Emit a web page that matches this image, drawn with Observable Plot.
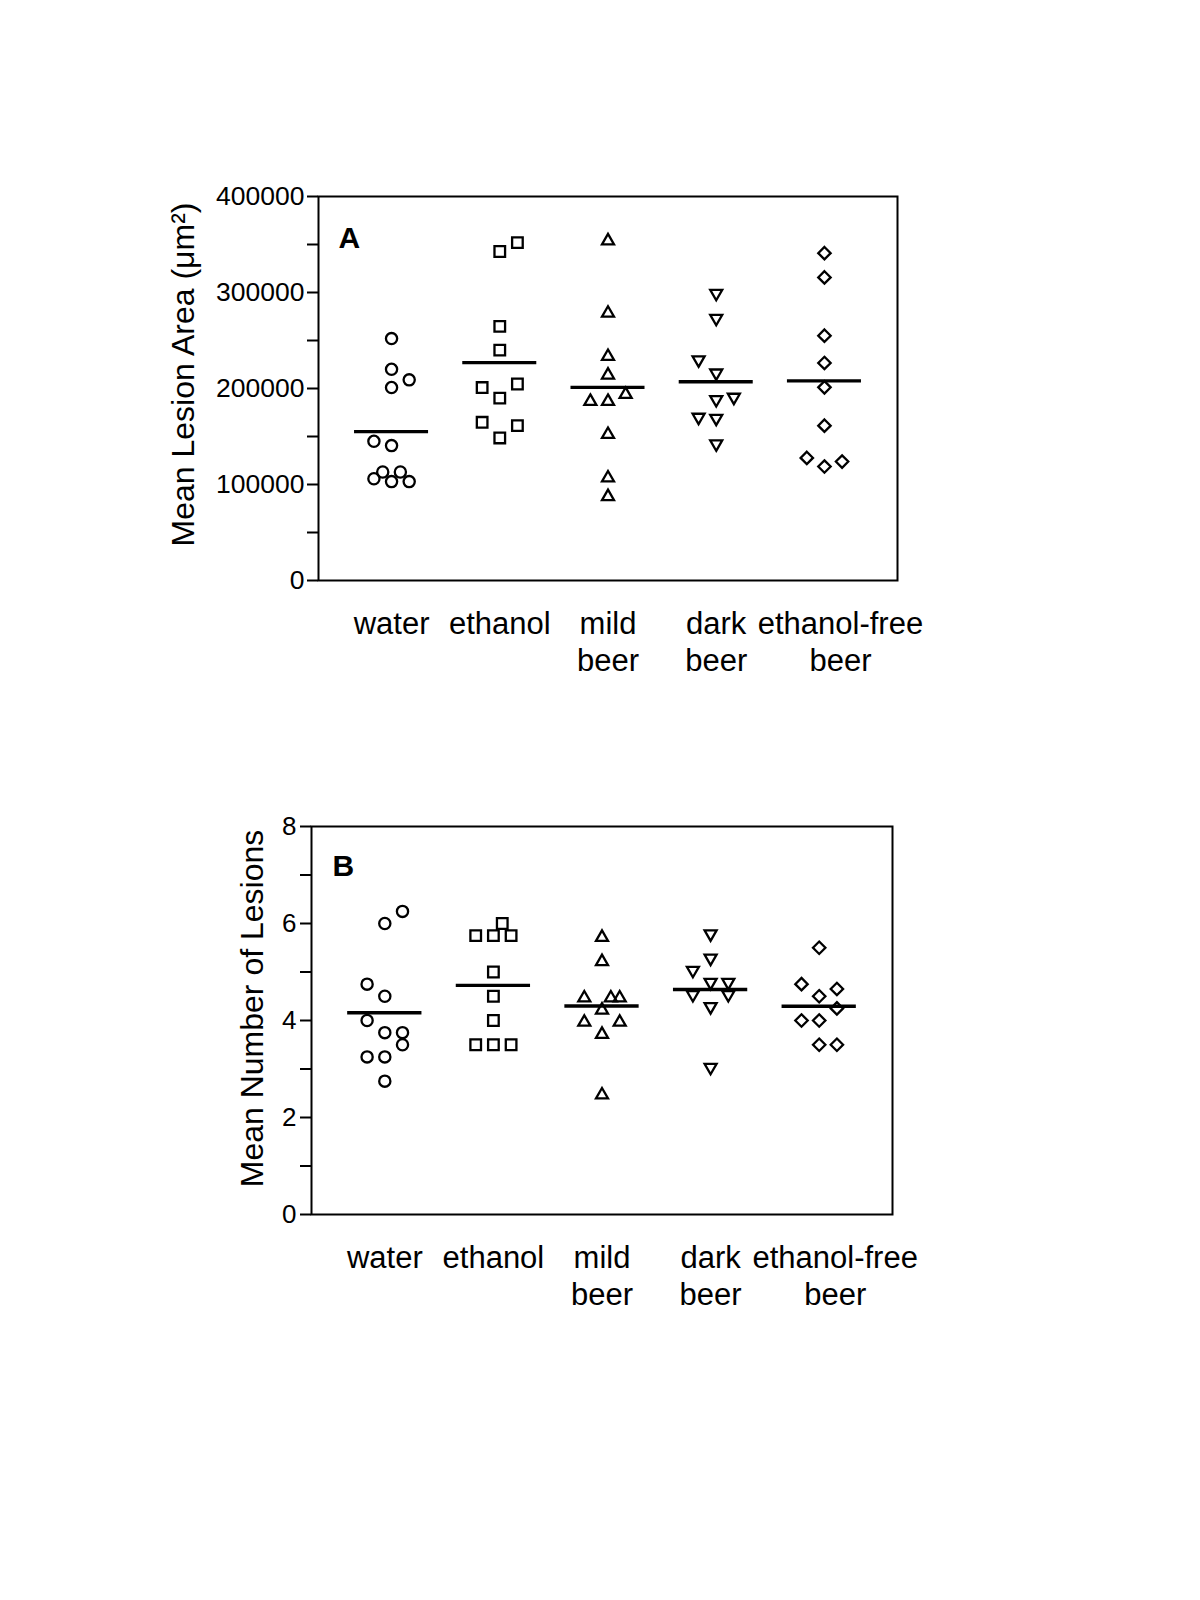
<!DOCTYPE html>
<html><head><meta charset="utf-8">
<script src="https://cdn.jsdelivr.net/npm/d3@7"></script>
<script src="https://cdn.jsdelivr.net/npm/@observablehq/plot@0.6"></script>
<style>body{margin:0;background:#fff;} svg{display:block}</style>
</head><body><div id="chart"></div>
<script>
// Categories and tick labels
const groupLabels = ["water", "ethanol", "mild\nbeer", "dark\nbeer", "ethanol-free\nbeer"];

// Panel A: mean lesion area (µm²) per animal, with lane (horizontal jitter slot)
const waterA      = [252000, 220000, 209000, 201000, 145000, 140500, 113000, 113000, 106000, 103000, 103000];
const waterALane  = [0, 0, 1, 0, -1, 0, -0.5, 0.5, -1, 0, 1];
const ethanolA     = [352000, 342700, 264700, 240000, 201000, 204700, 190000, 164800, 161300, 148500];
const ethanolALane = [1, 0, 0, 0, -1, 1, 0, -1, 1, 0];
const mildA        = [355600, 280300, 235200, 215800, 195700, 188400, 188400, 154000, 108600, 89200];
const mildALane    = [0, 0, 0, 0, 1, -1, 0, 0, 0, 0];
const darkA        = [297300, 271300, 228000, 214400, 186700, 189100, 168300, 167200, 140500];
const darkALane    = [0, 0, -1, 0, 0, 1, -1, 0, 0];
const freeA        = [341000, 315700, 255000, 226600, 201200, 161300, 127700, 118700, 123900];
const freeALane    = [0, 0, 0, 0, 0, 0, -1, 0, 1];
const yTicksA = [0, 50000, 100000, 150000, 200000, 250000, 300000, 350000, 400000];

// Panel B: mean number of lesions per animal
const waterB       = [6.25, 6.0, 4.75, 4.5, 4.0, 3.75, 3.75, 3.5, 3.25, 3.25, 2.75];
const waterBLane   = [1, 0, -1, 0, -1, 0, 1, 1, -1, 0, 0];
const ethanolB     = [6.0, 5.75, 5.75, 5.75, 5.0, 4.5, 4.0, 3.5, 3.5, 3.5];
const ethanolBLane = [0.5, -1, 0, 1, 0, 0, 0, -1, 0, 1];
const mildB        = [5.75, 5.25, 4.5, 4.5, 4.5, 4.25, 4.0, 4.0, 3.75, 2.5];
const mildBLane    = [0, 0, -1, 0.5, 1, 0, -1, 1, 0, 0];
const darkB        = [5.75, 5.25, 5.0, 4.75, 4.75, 4.5, 4.5, 4.25, 3.0];
const darkBLane    = [0, 0, -1, 0, 1, -1, 1, 0, 0];
const freeB        = [5.5, 4.75, 4.65, 4.5, 4.25, 4.0, 4.0, 3.5, 3.5];
const freeBLane    = [0, -1, 1, 0, 1, -1, 0, 0, 1];
const yTicksB = [0, 1, 2, 3, 4, 5, 6, 7, 8];

// Custom open symbols (sizes relative to r = 5)
const kOf = size => Math.sqrt(size / Math.PI) / 5;
const symbols = [
  {draw(c, size) { const r = 5.6 * kOf(size); c.moveTo(r, 0); c.arc(0, 0, r, 0, 2 * Math.PI); }},
  {draw(c, size) { const h = 5.3 * kOf(size); c.moveTo(-h, -h); c.lineTo(h, -h); c.lineTo(h, h); c.lineTo(-h, h); c.closePath(); }},
  {draw(c, size) { const k = kOf(size), w = 6.0 * k, h = 5.2 * k; c.moveTo(0, -h); c.lineTo(w, h); c.lineTo(-w, h); c.closePath(); }},
  {draw(c, size) { const k = kOf(size), w = 6.0 * k, h = 5.2 * k; c.moveTo(0, h); c.lineTo(w, -h); c.lineTo(-w, -h); c.closePath(); }},
  {draw(c, size) { const d = 6.2 * kOf(size); c.moveTo(0, -d); c.lineTo(d, 0); c.lineTo(0, d); c.lineTo(-d, 0); c.closePath(); }}
];

function buildRows(valueLists, laneLists) {
  const rows = [];
  valueLists.forEach((vals, g) => vals.forEach((v, j) => rows.push({g, v, lane: laneLists[g][j]})));
  return rows;
}

const FONT = '"Liberation Sans", Arial, Helvetica, sans-serif';
const LANE = 0.163, HALF = 0.342;

function panel(o) {
  const rows = buildRows(o.values, o.lanes);
  const means = o.values.map((vals, g) => ({g, m: d3.mean(vals)}));
  return Plot.plot({
    width: 1200, height: o.height,
    marginLeft: o.marginLeft, marginRight: o.marginRight,
    marginTop: o.marginTop, marginBottom: o.marginBottom,
    style: {fontFamily: FONT, fontSize: "26px", color: "black", background: "white", overflow: "visible"},
    x: {type: "linear", domain: [-0.675, 4.675], axis: null},
    y: {domain: o.yDomain},
    marks: [
      Plot.frame({stroke: "black", strokeWidth: 2}),
      Plot.axisY({ticks: o.yTicks, tickSize: 11, tickPadding: o.tickPadding,
        tickFormat: d => (d % o.labelEvery === 0 ? String(d) : ""),
        fontSize: o.tickFont, strokeWidth: 2, label: null}),
      Plot.ruleY(means, {y: "m", x1: d => d.g - HALF, x2: d => d.g + HALF, stroke: "black", strokeWidth: 3.4}),
      ...symbols.map((s, i) => Plot.dot(rows.filter(r => r.g === i), {
        x: d => d.g + d.lane * LANE, y: "v", symbol: s, r: 5,
        stroke: "black", strokeWidth: 2.3, fill: "none"})),
      Plot.text(groupLabels.slice(0, 4), {x: (d, i) => i, frameAnchor: "bottom", dy: 27,
        lineAnchor: "top", lineHeight: 1.2, fontSize: 31, textAnchor: "middle"}),
      Plot.text(groupLabels.slice(4), {x: () => 4, frameAnchor: "bottom", dy: 27, dx: 16,
        lineAnchor: "top", lineHeight: 1.2, fontSize: 31, textAnchor: "middle"}),
      Plot.text([o.title], {frameAnchor: "left", rotate: -90, dx: o.titleDx, dy: o.titleDy,
        lineAnchor: "bottom", textAnchor: "middle", fontSize: 32}),
      Plot.text([o.letter], {frameAnchor: "top-left", dx: o.letterDx, dy: o.letterDy,
        lineAnchor: "top", textAnchor: "start", fontSize: 30, fontWeight: "bold"})
    ]
  });
}

const chart = document.getElementById("chart");
chart.append(panel({
  values: [waterA, ethanolA, mildA, darkA, freeA],
  lanes: [waterALane, ethanolALane, mildALane, darkALane, freeALane],
  yDomain: [0, 400000], yTicks: yTicksA, labelEvery: 100000, tickFont: 26.5, tickPadding: 3,
  height: 700, marginLeft: 318, marginRight: 303, marginTop: 196, marginBottom: 120,
  title: "Mean Lesion Area (\u03bcm\u00b2)", titleDx: -125, titleDy: -14,
  letter: "A", letterDx: 20, letterDy: 30
}));
chart.append(panel({
  values: [waterB, ethanolB, mildB, darkB, freeB],
  lanes: [waterBLane, ethanolBLane, mildBLane, darkBLane, freeBLane],
  yDomain: [0, 8], yTicks: yTicksB, labelEvery: 2, tickFont: 26, tickPadding: 4,
  height: 644, marginLeft: 311, marginRight: 308, marginTop: 126, marginBottom: 130,
  title: "Mean Number of Lesions", titleDx: -49, titleDy: -12,
  letter: "B", letterDx: 21, letterDy: 28
}));
</script>
</body></html>
